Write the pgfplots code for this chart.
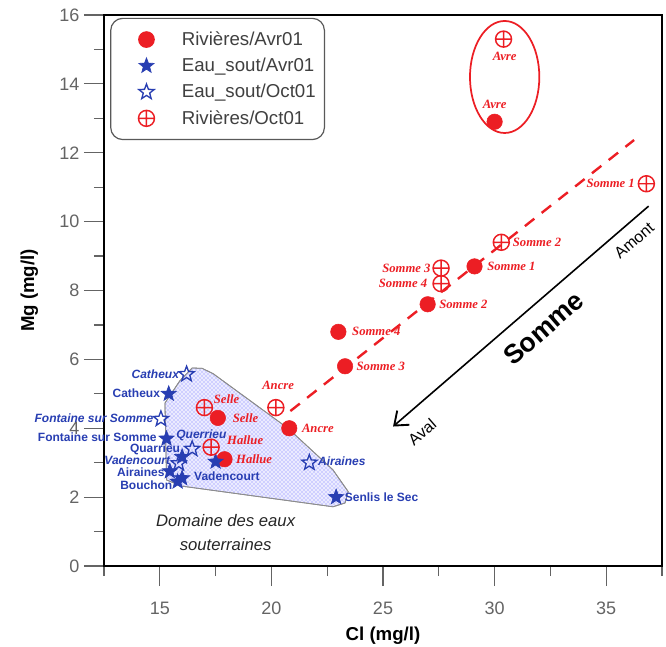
\documentclass[border=0pt]{standalone}
\usepackage{fontspec}
\setmainfont{Liberation Sans}
\newfontfamily\labserif{Liberation Serif}
\usepackage{pgfplots}
\pgfplotsset{compat=1.18}
\usetikzlibrary{arrows.meta,patterns}
\definecolor{rred}{RGB}{236,30,36}
\definecolor{sblue}{RGB}{40,62,178}
\definecolor{tickgray}{RGB}{100,100,100}

\pgfdeclareplotmark{fstar}{%
  \pgfpathmoveto{\pgfpointpolar{90}{\pgfplotmarksize}}%
  \pgfpathlineto{\pgfpointscale{0.42}{\pgfpointpolar{126}{\pgfplotmarksize}}}%
  \pgfpathlineto{\pgfpointpolar{162}{\pgfplotmarksize}}%
  \pgfpathlineto{\pgfpointscale{0.42}{\pgfpointpolar{198}{\pgfplotmarksize}}}%
  \pgfpathlineto{\pgfpointpolar{234}{\pgfplotmarksize}}%
  \pgfpathlineto{\pgfpointscale{0.42}{\pgfpointpolar{270}{\pgfplotmarksize}}}%
  \pgfpathlineto{\pgfpointpolar{306}{\pgfplotmarksize}}%
  \pgfpathlineto{\pgfpointscale{0.42}{\pgfpointpolar{342}{\pgfplotmarksize}}}%
  \pgfpathlineto{\pgfpointpolar{18}{\pgfplotmarksize}}%
  \pgfpathlineto{\pgfpointscale{0.42}{\pgfpointpolar{54}{\pgfplotmarksize}}}%
  \pgfpathclose
  \pgfusepathqfillstroke
}
\pgfdeclareplotmark{ostar}{%
  \pgfpathmoveto{\pgfpointpolar{90}{\pgfplotmarksize}}%
  \pgfpathlineto{\pgfpointscale{0.42}{\pgfpointpolar{126}{\pgfplotmarksize}}}%
  \pgfpathlineto{\pgfpointpolar{162}{\pgfplotmarksize}}%
  \pgfpathlineto{\pgfpointscale{0.42}{\pgfpointpolar{198}{\pgfplotmarksize}}}%
  \pgfpathlineto{\pgfpointpolar{234}{\pgfplotmarksize}}%
  \pgfpathlineto{\pgfpointscale{0.42}{\pgfpointpolar{270}{\pgfplotmarksize}}}%
  \pgfpathlineto{\pgfpointpolar{306}{\pgfplotmarksize}}%
  \pgfpathlineto{\pgfpointscale{0.42}{\pgfpointpolar{342}{\pgfplotmarksize}}}%
  \pgfpathlineto{\pgfpointpolar{18}{\pgfplotmarksize}}%
  \pgfpathlineto{\pgfpointscale{0.42}{\pgfpointpolar{54}{\pgfplotmarksize}}}%
  \pgfpathclose
  \pgfusepathqstroke
}

\tikzset{
  rl/.style={text=rred, font=\labserif\bfseries\itshape\fontsize{9.5}{10}\selectfont, inner sep=1pt},
  bu/.style={text=sblue, font=\bfseries\fontsize{9}{10}\selectfont, inner sep=0.5pt},
  bi/.style={text=sblue, font=\bfseries\itshape\fontsize{9}{10}\selectfont, inner sep=0.5pt},
}

\begin{document}
\begin{tikzpicture}
\begin{axis}[
  name=ax,
  scale only axis,
  width=418.5pt, height=413.25pt,
  xmin=12.5, xmax=37.5, ymin=0, ymax=16,
  xtick={15,20,25,30,35},
  minor xtick={12.5,17.5,22.5,27.5,32.5,37.5},
  ytick={0,2,4,6,8,10,12,14,16},
  minor ytick={1,3,5,7,9,11,13,15},
  xtick pos=bottom, ytick pos=left,
  tick align=outside,
  major tick length=15pt, minor tick length=7.5pt,
  tick style={tickgray, line width=0.9pt},
  axis line style={black, line width=1.6pt},
  tick label style={font=\fontsize{13.5}{15}\selectfont, text=tickgray},
  xticklabel style={yshift=-8.5pt},
  /pgf/number format/assume math mode=true,
  xlabel={Cl (mg/l)}, ylabel={Mg (mg/l)},
  label style={font=\bfseries\fontsize{14}{16}\selectfont, text=black},
  xlabel style={yshift=-2.5pt},
  ylabel style={yshift=9pt},
  clip=false,
  legend cell align=left,
  legend image code/.code={\path (0pt,0pt) (45.75pt,0pt); \draw[mark repeat=2,mark phase=2,#1] plot coordinates {(0pt,0pt)(21.75pt,0pt)(45.75pt,0pt)};},
  legend style={at={(rel axis cs:0.011,0.995)}, anchor=north west,
    draw=black!65, line width=0.9pt, rounded corners=9pt, fill=white,
    font=\fontsize{14}{16}\selectfont, text=black!75,
    inner xsep=4.5pt, inner ysep=8pt, row sep=4pt},
]

% Domaine des eaux souterraines
\addplot[forget plot, draw=black!45, line width=0.6pt, fill=blue!8,
  postaction={pattern=crosshatch dots, pattern color=blue!55}] coordinates {
  (15.9,5.38) (16.45,5.75) (16.9,5.74) (17.4,5.58) (20.74,4.0) (22.76,2.79)
  (23.44,2.16) (23.3,1.83) (22.76,1.72) (15.98,2.32) (15.3,2.5) (15.23,4.73)
} -- cycle;

% trend line
\addplot[forget plot, rred, line width=1.8pt, dash pattern=on 9pt off 7pt]
  coordinates {(20.85,4.5) (36.25,12.37)};

\addplot[only marks, mark=*, mark size=5.8pt, color=rred] coordinates {
  (30.0,12.9) (29.1,8.7) (27.0,7.6) (23.0,6.8) (23.3,5.8) (20.8,4.0) (17.6,4.3) (17.9,3.1)
};
\addlegendentry{Rivières/Avr01}

\addplot[only marks, mark=fstar, mark size=6pt, color=sblue, line width=0.5pt] coordinates {
  (15.4,5.0) (15.3,3.7) (16.0,3.17) (15.45,2.75) (15.8,2.45) (16.0,2.55) (17.5,3.03) (22.9,2.0)
};
\addlegendentry{Eau\_sout/Avr01}

\addplot[only marks, mark=ostar, mark size=6pt, color=sblue, line width=1pt] coordinates {
  (16.2,5.57) (15.05,4.27) (16.45,3.4) (15.85,2.98) (21.7,3.0)
};
\addlegendentry{Eau\_sout/Oct01}

\addplot[only marks, mark=oplus, mark size=6pt, color=rred, line width=1.1pt] coordinates {
  (30.4,15.3) (36.8,11.1) (30.3,9.4) (27.6,8.65) (27.6,8.2) (20.2,4.6) (17.0,4.6) (17.3,3.45)
};
\addlegendentry{Rivières/Oct01}

% ellipse around Avre
\draw[rred, line width=1.3pt] (axis cs:30.45,14.2) ellipse [x radius=26pt, y radius=42pt];

% arrow Amont -> Aval
\draw[black, line width=1.2pt, -{Straight Barb[length=9pt,width=14pt,line width=1.4pt]}]
  (axis cs:36.9,10.45) -- (axis cs:25.45,4.05);
\node[rotate=41, font=\bfseries\fontsize{20}{22}\selectfont] at (axis cs:32.2,6.9) {Somme};
\node[rotate=41, font=\fontsize{12}{14}\selectfont] at (axis cs:36.25,9.45) {Amont};
\node[rotate=41, font=\fontsize{12}{14}\selectfont] at (axis cs:26.75,3.9) {Aval};

\node[align=center, font=\itshape\fontsize{12.5}{18.5}\selectfont, text=black!85] at (axis cs:17.95,0.97)
  {Domaine des eaux\\souterraines};

% red labels
\node[rl] at (axis cs:30.0,13.4) {Avre};
\node[rl] at (axis cs:30.45,14.8) {Avre};
\node[rl, anchor=east] at (axis cs:36.35,11.1) {Somme 1};
\node[rl, anchor=west] at (axis cs:30.75,9.4) {Somme 2};
\node[rl, anchor=west] at (axis cs:29.6,8.7) {Somme 1};
\node[rl, anchor=east] at (axis cs:27.2,8.65) {Somme 3};
\node[rl, anchor=east] at (axis cs:27.05,8.22) {Somme 4};
\node[rl, anchor=west] at (axis cs:27.45,7.6) {Somme 2};
\node[rl, anchor=west] at (axis cs:23.55,6.8) {Somme 4};
\node[rl, anchor=west] at (axis cs:23.75,5.8) {Somme 3};
\node[rl] at (axis cs:20.3,5.25) {Ancre};
\node[rl, anchor=west] at (axis cs:21.3,4.0) {Ancre};
\node[rl, anchor=west] at (axis cs:17.35,4.85) {Selle};
\node[rl, anchor=west] at (axis cs:18.2,4.3) {Selle};
\node[rl, anchor=west] at (axis cs:17.95,3.66) {Hallue};
\node[rl, anchor=west] at (axis cs:18.35,3.1) {Hallue};

% blue labels
\node[bi, anchor=east] at (axis cs:15.9,5.57) {Catheux};
\node[bu, anchor=east] at (axis cs:15.05,5.02) {Catheux};
\node[bi, anchor=east] at (axis cs:14.75,4.3) {Fontaine sur Somme};
\node[bu, anchor=east] at (axis cs:14.9,3.75) {Fontaine sur Somme};
\node[bi, anchor=west] at (axis cs:15.7,3.8) {Querrieu};
\node[bu, anchor=east] at (axis cs:15.95,3.39) {Quarrieu};
\node[bi, anchor=east] at (axis cs:15.5,3.06) {Vadencourt};
\node[bu, anchor=east] at (axis cs:15.25,2.72) {Airaines};
\node[bu, anchor=east] at (axis cs:15.6,2.35) {Bouchon};
\node[bu, anchor=west] at (axis cs:16.5,2.6) {Vadencourt};
\node[bi, anchor=west] at (axis cs:22.05,3.03) {Airaines};
\node[bu, anchor=west] at (axis cs:23.25,2.0) {Senlis le Sec};

\end{axis}
\pgfresetboundingbox
\path[use as bounding box] ([xshift=-78pt,yshift=-60pt]ax.south west) rectangle ([xshift=3pt,yshift=11.25pt]ax.north east);
\end{tikzpicture}
\end{document}
